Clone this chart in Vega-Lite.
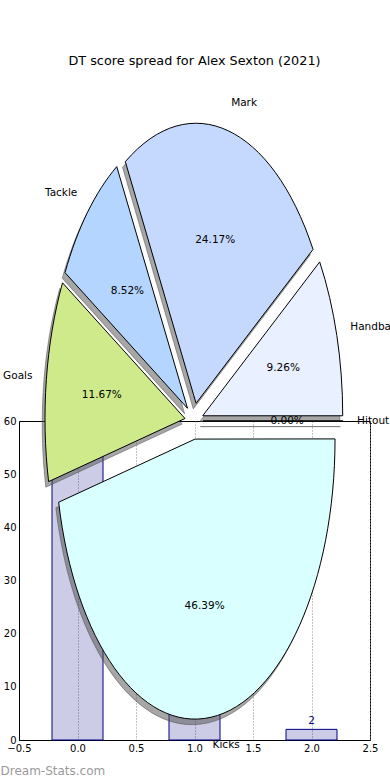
{
  "$schema": "https://vega.github.io/schema/vega-lite/v6.json",
  "width": 351,
  "height": 319,
  "autosize": {"type": "none"},
  "padding": {"left": 19, "top": 421, "right": 20, "bottom": 40},
  "background": "white",
  "title": {"text": "DT score spread for Alex Sexton (2021)", "frame": "group", "anchor": "middle", "offset": 31, "fontSize": 12.8, "fontWeight": "normal", "font": "DejaVu Sans", "color": "black"},
  "config": {"font": "DejaVu Sans", "view": {"stroke": "black", "strokeWidth": 1}},
  "datasets": {
    "bars": [{"slot": 0, "count": 57}, {"slot": 1, "count": 20}, {"slot": 2, "count": 2}],
    "pie": [
      {"cat": "Hitout", "pct": 0},
      {"cat": "Handball", "pct": 9.26},
      {"cat": "Mark", "pct": 24.17},
      {"cat": "Tackle", "pct": 8.52},
      {"cat": "Goals", "pct": 11.67},
      {"cat": "Kicks", "pct": 46.39}
    ]
  },
  "layer": [
    {
      "data": {"name": "bars"},
      "encoding": {
        "x": {"field": "slot", "type": "quantitative", "scale": {"domain": [-0.5, 2.5], "nice": false, "zero": false, "padding": 0},
          "axis": {"values": [-0.5, 0, 0.5, 1, 1.5, 2, 2.5], "format": ".1f", "labelExpr": "replace(datum.label, '-', '−')", "grid": true, "gridDash": [1, 2], "gridColor": "#888888", "gridWidth": 1, "ticks": false, "labelPadding": 3, "labelFontSize": 10, "labelColor": "black", "domainColor": "black", "labelFlush": false, "labelOverlap": false, "title": "Dream-Stats.com", "titleColor": "#9a9a9a", "titleFontSize": 12, "titleFontWeight": "normal", "titleAnchor": "start", "titleAlign": "left", "titleX": -19, "titleY": 34, "titleBaseline": "alphabetic"}},
        "y": {"field": "count", "type": "quantitative", "scale": {"domain": [0, 60], "nice": false, "padding": 0},
          "axis": {"values": [0, 10, 20, 30, 40, 50, 60], "grid": false, "ticks": false, "labelPadding": 3, "labelFontSize": 10, "labelColor": "black", "domainColor": "black", "labelFlush": false, "labelOverlap": false, "title": null}}
      },
      "layer": [
        {"mark": {"type": "bar", "width": 51, "fill": "#000080", "fillOpacity": 0.2, "stroke": "#000080", "strokeWidth": 1}},
        {"mark": {"type": "text", "baseline": "bottom", "dy": -3, "fontSize": 10.5, "color": "#000080"},
          "encoding": {"text": {"field": "count", "type": "quantitative"}}}
      ]
    },
    {
      "data": {"name": "pie"},
      "transform": [
        {"window": [{"op": "sum", "field": "pct", "as": "cum"}]},
        {"calculate": "(datum.cum - datum.pct) * PI / 50", "as": "a0"},
        {"calculate": "datum.cum * PI / 50", "as": "a1"},
        {"calculate": "(datum.a0 + datum.a1) / 2", "as": "am"},
        {"calculate": "round(0.0325 * cos(datum.am) * 100000) / 100000", "as": "dx"},
        {"calculate": "round(-0.065 * sin(datum.am) * 100000) / 100000", "as": "dy"},
        {"calculate": "round((datum.dx + 0.5 * cos(datum.a0)) * 100000) / 100000", "as": "x0"},
        {"calculate": "round((datum.dy - sin(datum.a0)) * 100000) / 100000", "as": "y0"},
        {"calculate": "round((datum.dx + 0.5 * cos(datum.a1)) * 100000) / 100000", "as": "x1"},
        {"calculate": "round((datum.dy - sin(datum.a1)) * 100000) / 100000", "as": "y1"},
        {"calculate": "'M' + datum.dx + ',' + datum.dy + 'L' + datum.x0 + ',' + datum.y0 + 'A0.5,1 0 ' + (datum.a1 - datum.a0 > PI ? 1 : 0) + ',0 ' + datum.x1 + ',' + datum.y1 + 'Z'", "as": "path"},
        {"calculate": "1.165 * cos(datum.am)", "as": "lx"},
        {"calculate": "1.165 * sin(datum.am)", "as": "ly"},
        {"calculate": "0.665 * cos(datum.am)", "as": "px"},
        {"calculate": "0.665 * sin(datum.am)", "as": "py"},
        {"calculate": "format(datum.pct, '.2f') + '%'", "as": "plabel"}
      ],
      "layer": [
        {
          "mark": {"type": "point", "filled": true, "size": 313600, "fill": "#4d4d4d", "stroke": "#4d4d4d", "strokeWidth": 1, "opacity": 1, "fillOpacity": 0.5, "strokeOpacity": 0.5, "xOffset": -2.8, "yOffset": 5.6},
          "encoding": {
            "x": {"datum": 0, "type": "quantitative", "scale": {"domain": [-1.25, 1.2571], "nice": false, "zero": false}, "axis": null},
            "y": {"datum": 0, "type": "quantitative", "scale": {"domain": [-1.1393, 0], "nice": false, "zero": false}, "axis": null},
            "shape": {"field": "path", "type": "nominal", "scale": null, "legend": null}
          }
        },
        {
          "mark": {"type": "point", "filled": true, "size": 313600, "stroke": "black", "strokeWidth": 1, "opacity": 1},
          "encoding": {
            "x": {"datum": 0, "type": "quantitative", "scale": {"domain": [-1.25, 1.2571], "nice": false, "zero": false}, "axis": null},
            "y": {"datum": 0, "type": "quantitative", "scale": {"domain": [-1.1393, 0], "nice": false, "zero": false}, "axis": null},
            "shape": {"field": "path", "type": "nominal", "scale": null, "legend": null},
            "fill": {"field": "cat", "type": "nominal", "legend": null, "scale": {"domain": ["Hitout", "Handball", "Mark", "Tackle", "Goals", "Kicks"], "range": ["#ffe4c4", "#e9f0ff", "#c5d9ff", "#b3d5ff", "#cfea8b", "#d9ffff"]}}
          }
        },
        {
          "transform": [{"filter": "datum.lx > 0"}],
          "mark": {"type": "text", "align": "left", "baseline": "middle", "fontSize": 10.5, "color": "black"},
          "encoding": {
            "x": {"field": "lx", "type": "quantitative", "scale": {"domain": [-1.25, 1.2571], "nice": false, "zero": false}, "axis": null},
            "y": {"field": "ly", "type": "quantitative", "scale": {"domain": [-1.1393, 0], "nice": false, "zero": false}, "axis": null},
            "text": {"field": "cat", "type": "nominal"}
          }
        },
        {
          "transform": [{"filter": "datum.lx <= 0"}],
          "mark": {"type": "text", "align": "right", "baseline": "middle", "fontSize": 10.5, "color": "black"},
          "encoding": {
            "x": {"field": "lx", "type": "quantitative", "scale": {"domain": [-1.25, 1.2571], "nice": false, "zero": false}, "axis": null},
            "y": {"field": "ly", "type": "quantitative", "scale": {"domain": [-1.1393, 0], "nice": false, "zero": false}, "axis": null},
            "text": {"field": "cat", "type": "nominal"}
          }
        },
        {
          "mark": {"type": "text", "align": "center", "baseline": "middle", "fontSize": 10.5, "color": "black"},
          "encoding": {
            "x": {"field": "px", "type": "quantitative", "scale": {"domain": [-1.25, 1.2571], "nice": false, "zero": false}, "axis": null},
            "y": {"field": "py", "type": "quantitative", "scale": {"domain": [-1.1393, 0], "nice": false, "zero": false}, "axis": null},
            "text": {"field": "plabel", "type": "nominal"}
          }
        }
      ]
    }
  ],
  "resolve": {"scale": {"x": "independent", "y": "independent"}}
}
